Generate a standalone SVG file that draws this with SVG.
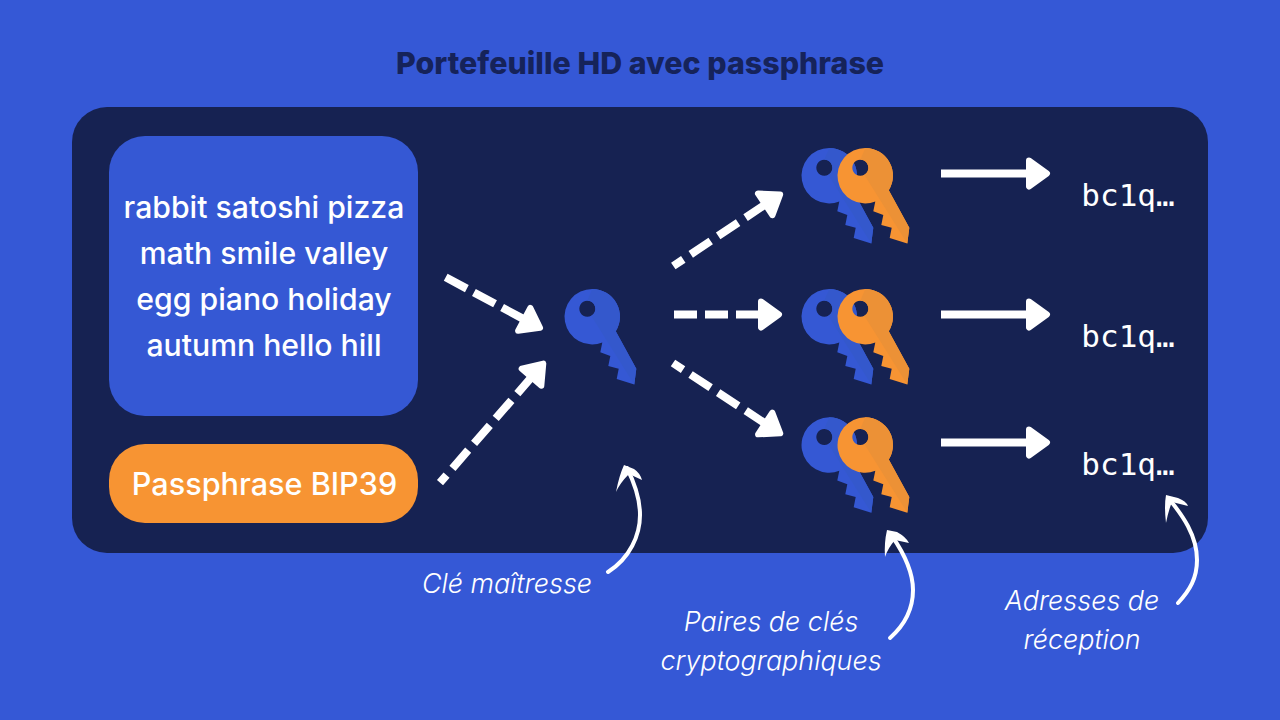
<svg xmlns="http://www.w3.org/2000/svg" xmlns:xlink="http://www.w3.org/1999/xlink" width="1280" height="720" viewBox="0 0 1280 720">
<style>
.t{font-family:Inter,"Liberation Sans",sans-serif;fill:#fff;text-anchor:middle}
.w{font-size:30.2px;font-weight:500}
.i{font-size:26.9px;font-weight:300;font-style:italic}
.m{font-family:"DejaVu Sans Mono","Liberation Mono",monospace;font-size:31px;fill:#fff;text-anchor:middle}
.d{fill:none;stroke:#fff;stroke-width:8;marker-end:url(#h)}
.c{fill:none;stroke:#fff;stroke-width:4;stroke-linecap:round}
.b1{fill:#3558d4}.b2{fill:#3458cc}.o1{fill:#f79433}.o2{fill:#ec9136}
</style>
<defs>
<marker id="h" markerUnits="userSpaceOnUse" markerWidth="40" markerHeight="40" refX="0" refY="0" viewBox="-20 -20 40 40" orient="auto" overflow="visible">
<path d="M-9,-13L9,0L-9,13Z" fill="#fff" stroke="#fff" stroke-width="6" stroke-linejoin="round"/>
</marker>
<path id="keyshape" fill-rule="evenodd" d="M-5,-16a8,8 0 1,0 0.010,0ZM0,-27.700A27.700,27.700 0 0 1 23.500,14.600L44,52L42,67.700L24.400,62.300L26.400,52L16,49.300L18,39.300L8,35.600L10,25.800A27.700,27.700 0 1 1 0,-27.700Z"/>
<path id="keyfacet" d="M-1,-1L42,67.700L44,52L23.500,14.600A27.700,27.700 0 0 0 0,-27.700L-5,-16A8,8 0 0 1 -1,-1Z"/>
</defs>
<rect width="1280" height="720" fill="#3558d6"/>
<text class="t" x="640" y="74" style="font-size:30.4px;font-weight:800;fill:#16235a">Portefeuille HD avec passphrase</text>
<rect id="panel" x="72" y="107" width="1136" height="446" rx="35" fill="#162252"/>
<g id="seed">
<rect x="109" y="136" width="309" height="280" rx="36" fill="#3558d4"/>
<text class="t w" x="264" y="218">rabbit satoshi pizza</text>
<text class="t w" x="264" y="264">math smile valley</text>
<text class="t w" x="264" y="310">egg piano holiday</text>
<text class="t w" x="264" y="356">autumn hello hill</text>
</g>
<g id="passphrase">
<rect x="109" y="444" width="309" height="79" rx="36" fill="#f79433"/>
<text class="t w" x="264.500" y="495" style="font-size:30.6px">Passphrase BIP39</text>
</g>
<g id="master-key" transform="translate(592.300,316.700)"><use xlink:href="#keyshape" class="b1"/><use xlink:href="#keyfacet" class="b2"/></g>
<g id="pair-1"><g transform="translate(829.300,175.700)"><use xlink:href="#keyshape" class="b1"/><use xlink:href="#keyfacet" class="b2"/></g><g transform="translate(865.300,175.700)"><use xlink:href="#keyshape" class="o1"/><use xlink:href="#keyfacet" class="o2"/></g></g>
<g id="pair-2"><g transform="translate(829.300,316.700)"><use xlink:href="#keyshape" class="b1"/><use xlink:href="#keyfacet" class="b2"/></g><g transform="translate(865.300,316.700)"><use xlink:href="#keyshape" class="o1"/><use xlink:href="#keyfacet" class="o2"/></g></g>
<g id="pair-3"><g transform="translate(829.300,445)"><use xlink:href="#keyshape" class="b1"/><use xlink:href="#keyfacet" class="b2"/></g><g transform="translate(865.300,445)"><use xlink:href="#keyshape" class="o1"/><use xlink:href="#keyfacet" class="o2"/></g></g>
<g id="addr-1"><text class="m" x="1128" y="206">bc1q…</text></g>
<g id="addr-2"><text class="m" x="1128" y="347">bc1q…</text></g>
<g id="addr-3"><text class="m" x="1128" y="475">bc1q…</text></g>
<g id="connectors">
<path class="d" stroke-dasharray="24 8" d="M445.700,277.300L532.100,323.600"/>
<path class="d" stroke-dasharray="24 9" stroke-dashoffset="14" d="M440,482.700L537.400,370.400"/>
<path class="d" stroke-dasharray="24 9" stroke-dashoffset="12" d="M673.300,266L772.700,199.400"/>
<path class="d" stroke-dasharray="23 8" d="M674,314.500L770,314.500"/>
<path class="d" stroke-dasharray="24 9" stroke-dashoffset="12" d="M673,363L772.700,428.400"/>
<path class="d" d="M941,173.500L1038,173.500"/>
<path class="d" d="M941,314.500L1038,314.500"/>
<path class="d" d="M941,442.500L1038,442.500"/>
<path class="c" d="M608,572C630,558 640,535 640,515C640,498 634,482 627,468"/>
<path fill="#fff" d="M624,465L634,469Q640,473 642,480L629,474Q620,483 616,492Q619,476 624,465Z"/>
<path class="c" d="M890,638C908,622 913,605 913,590C913,570 903,552 892,536"/>
<path fill="#fff" d="M887,530L897,532Q906,537 909,543L895,540Q888,548 885,557Q884,543 887,530Z"/>
<path class="c" d="M1178,603C1190,590 1197,578 1197,560C1197,535 1182,515 1170,500"/>
<path fill="#fff" d="M1166,495L1178,498Q1186,501 1188,506L1172,502Q1168,512 1166,523Q1164,506 1166,495Z"/>
</g>
<g id="labels">
<text class="t i" x="507" y="593">Clé maîtresse</text>
<text class="t i" x="771" y="631">Paires de clés</text>
<text class="t i" x="771" y="670">cryptographiques</text>
<text class="t i" x="1082" y="610">Adresses de</text>
<text class="t i" x="1082" y="649">réception</text>
</g>
</svg>
